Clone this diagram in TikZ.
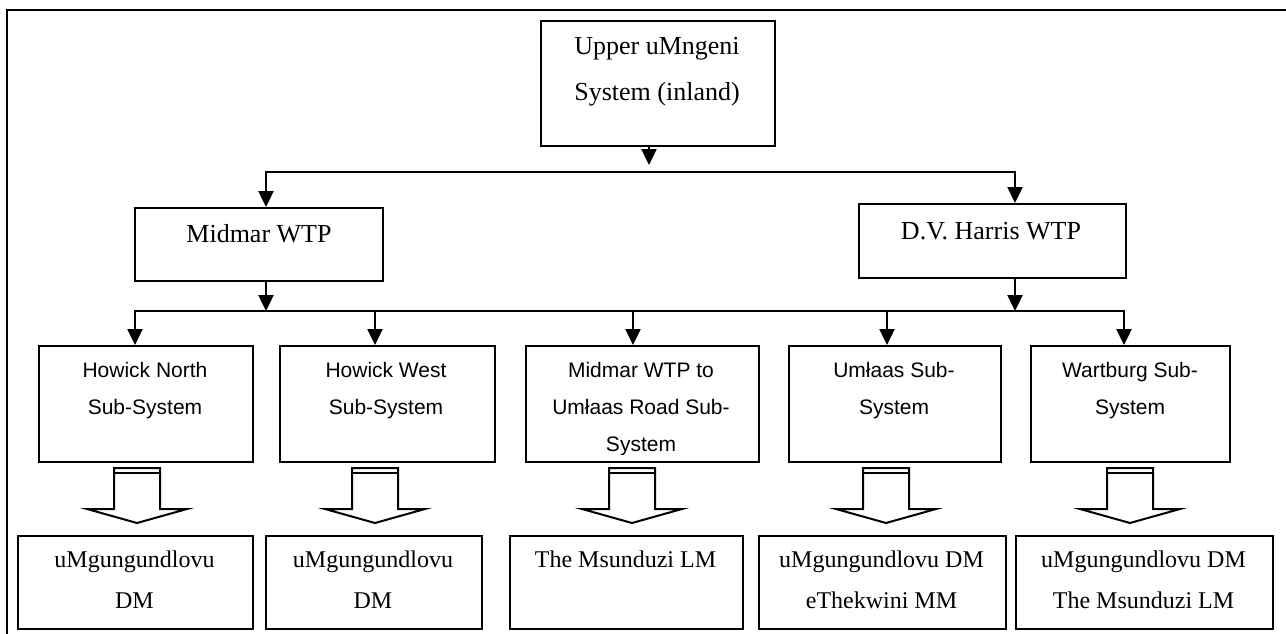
\documentclass[tikz,border=0pt]{standalone}
\usepackage{fontspec}
\setmainfont{Liberation Serif}
\newfontfamily\arialf{Liberation Sans}
\usetikzlibrary{arrows.meta,calc}
\begin{document}
\begin{tikzpicture}[x=1pt,y=-1pt,
  box/.style={draw,line width=2.4pt,rectangle,inner sep=0pt,anchor=north west},
  conn/.style={line width=2.4pt,line cap=rect},
  tipd/.tip={Triangle[length=16pt,width=15pt]},
  arr/.style={line width=2.4pt,-tipd},
  sertop/.style={font=\fontsize{26}{30}\selectfont,anchor=base,inner sep=0pt},
  serbot/.style={font=\fontsize{24}{28}\selectfont,anchor=base,inner sep=0pt},
  sans/.style={font=\arialf\fontsize{21}{25}\selectfont,anchor=base,inner sep=0pt},
  blk/.style={draw,line width=2pt,fill=white,line join=miter},
  bar/.style={line width=2.6pt}
]
\useasboundingbox (0,0) rectangle (1286,634);
% frame
\draw[line width=2.2pt] (7,634) -- (7,10) -- (1286,10);

% boxes
\node[box,minimum width=234pt,minimum height=125pt] (top) at (540,20) {};
\node[box,minimum width=248pt,minimum height=73pt] (midmar) at (134,207) {};
\node[box,minimum width=267pt,minimum height=74pt] (dvh) at (858,203) {};
\node[box,minimum width=214pt,minimum height=116pt] (s1) at (38,345) {};
\node[box,minimum width=215pt,minimum height=116pt] (s2) at (279,345) {};
\node[box,minimum width=233pt,minimum height=116pt] (s3) at (525,345) {};
\node[box,minimum width=212pt,minimum height=116pt] (s4) at (788,345) {};
\node[box,minimum width=199pt,minimum height=116pt] (s5) at (1030,345) {};
\node[box,minimum width=235pt,minimum height=93pt] (d1) at (17,535) {};
\node[box,minimum width=216pt,minimum height=93pt] (d2) at (265,535) {};
\node[box,minimum width=233pt,minimum height=93pt] (d3) at (509,535) {};
\node[box,minimum width=247pt,minimum height=93pt] (d4) at (758,535) {};
\node[box,minimum width=257pt,minimum height=93pt] (d5) at (1015,535) {};

% texts
\node[sertop] (topa) at (657,55) {Upper uMngeni};
\node[sertop] (topb) at (657,100) {System (inland)};
\node[sertop] (midmart) at (259,242) {Midmar WTP};
\node[sertop] (dvht) at (991,239) {D.V. Harris WTP};

\node[sans] (s1a) at (145,377) {Howick North};
\node[sans] (s1b) at (145,414) {Sub-System};
\node[sans] (s2a) at (386,377) {Howick West};
\node[sans] (s2b) at (386,414) {Sub-System};
\node[sans] (s3a) at (641,377) {Midmar WTP to};
\node[sans] (s3b) at (641,414) {Umłaas Road Sub-};
\begin{scope}
  \clip (s3.north west) rectangle ($(s3.south east)+(0,-9)$);
  \node[sans] (s3c) at (641,451) {System};
\end{scope}
\node[sans] (s4a) at (894,377) {Umłaas Sub-};
\node[sans] (s4b) at (894,414) {System};
\node[sans] (s5a) at (1130,377) {Wartburg Sub-};
\node[sans] (s5b) at (1130,414) {System};

\node[serbot] (d1a) at (134.5,567) {uMgungundlovu};
\node[serbot] (d1b) at (134.5,608) {DM};
\node[serbot] (d2a) at (373,567) {uMgungundlovu};
\node[serbot] (d2b) at (373,608) {DM};
\node[serbot] (d3a) at (625.5,567) {The Msunduzi LM};
\node[serbot] (d4a) at (881.5,567) {uMgungundlovu DM};
\node[serbot] (d4b) at (881.5,608) {eThekwini MM};
\node[serbot] (d5a) at (1143.5,567) {uMgungundlovu DM};
\node[serbot] (d5b) at (1143.5,608) {The Msunduzi LM};

% connectors level 1
\coordinate (j0) at (649,165);
\draw[arr] (j0 |- top.south) -- (j0);
\coordinate (hL) at (266,172);
\coordinate (hR) at (1015,172);
\draw[line width=2.4pt,tipd-tipd,line join=miter] (hL |- midmar.north) -- (hL) -- (hR) -- (hR |- dvh.north);

% connectors level 2
\coordinate (m1) at (266,311);
\coordinate (m2) at (1015,311);
\draw[arr] (midmar.south -| m1) -- (m1);
\draw[arr] (dvh.south -| m2) -- (m2);
\coordinate (dL) at (135,311);
\coordinate (dR) at (1124,311);
\draw[conn] (dL) -- (dR);
\foreach \n/\xx in {s1/135,s2/375,s3/633,s4/887,s5/1124}{
  \coordinate (t\n) at (\xx,311);
  \draw[arr] (t\n) -- (t\n |- \n.north);
}

% block arrows
\foreach \n/\xx in {1/137,2/375,3/632,4/886,5/1130}{
  \coordinate (a\n) at (\xx,468);
  \draw[blk] ($(a\n)+(-23,0)$) -- ++(0,41) -- ++(-27,0) -- ($(a\n)+(0,55)$)
     -- ($(a\n)+(50,41)$) -- ++(-27,0) -- ++(0,-41) -- cycle;
  \draw[bar] ($(a\n)+(-23,0)$) -- ($(a\n)+(23,0)$);
  \draw[bar] ($(a\n)+(-23,5)$) -- ($(a\n)+(23,5)$);
}
\end{tikzpicture}
\end{document}
